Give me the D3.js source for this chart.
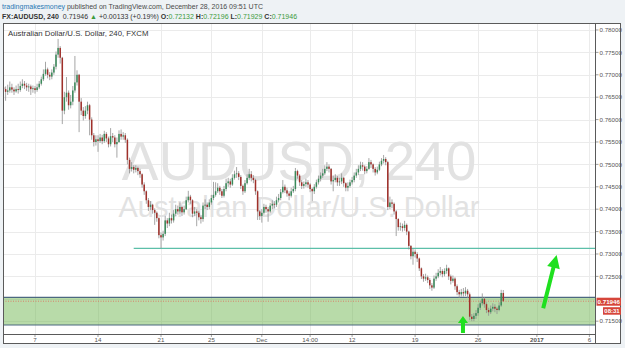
<!DOCTYPE html>
<html>
<head>
<meta charset="utf-8">
<script src="https://cdnjs.cloudflare.com/ajax/libs/d3/7.8.5/d3.min.js"></script>
<style>
body { margin: 0; background: #eef2f5; }
svg { display: block; font-family: "Liberation Sans", Arial, sans-serif; }
</style>
</head>
<body>
<div id="chart-area"></div>
<script>
// 4h bars, bar 0 = Nov 7 00:00, first bar drawn is -15
var firstBar = -15;
var firstOpen = 0.7672;

var closes = [
    0.7668, 0.7662, 0.7665, 0.7672, 0.7667, 0.7663, 0.7668, 0.7666, 0.7675, 0.7680, 0.7676, 0.7672, 0.7674, 0.7668, 0.7670,
    0.7666, 0.7672, 0.7680, 0.7690, 0.7702, 0.7712, 0.7700, 0.7696, 0.7705, 0.7718,
    0.7745, 0.7760, 0.7738, 0.7620, 0.7650, 0.7660, 0.7632, 0.7640, 0.7665, 0.7683,
    0.7700, 0.7640, 0.7620, 0.7608, 0.7620, 0.7632, 0.7600, 0.7565, 0.7550, 0.7556,
    0.7552, 0.7560, 0.7552, 0.7568, 0.7558, 0.7545, 0.7563, 0.7560, 0.7545, 0.7550,
    0.7568, 0.7562, 0.7565, 0.7555, 0.7510, 0.7490, 0.7494, 0.7488, 0.7492, 0.7485,
    0.7478, 0.7455, 0.7440, 0.7420, 0.7405, 0.7410, 0.7398, 0.7392, 0.7380, 0.7342,
    0.7337, 0.7345, 0.7375, 0.7368, 0.7380, 0.7375, 0.7390, 0.7400, 0.7395, 0.7405,
    0.7393, 0.7400, 0.7420, 0.7428, 0.7420, 0.7390, 0.7395, 0.7392, 0.7382, 0.7378,
    0.7408, 0.7410, 0.7405, 0.7415, 0.7425, 0.7432, 0.7440, 0.7448, 0.7440, 0.7430,
    0.7445, 0.7458, 0.7462, 0.7455, 0.7470, 0.7478, 0.7480, 0.7472, 0.7452, 0.7440,
    0.7458, 0.7470, 0.7478, 0.7470, 0.7465, 0.7440, 0.7395, 0.7385, 0.7392, 0.7405,
    0.7400, 0.7395, 0.7408, 0.7412, 0.7410, 0.7420, 0.7425, 0.7438, 0.7450, 0.7442,
    0.7435, 0.7430, 0.7440, 0.7445, 0.7485, 0.7475, 0.7460, 0.7452, 0.7456, 0.7460,
    0.7455, 0.7445, 0.7440, 0.7450, 0.7460, 0.7468, 0.7475, 0.7480, 0.7490, 0.7495,
    0.7490, 0.7462, 0.7465, 0.7470, 0.7460, 0.7462, 0.7470, 0.7458, 0.7448, 0.7452,
    0.7460, 0.7465, 0.7475, 0.7482, 0.7490, 0.7498, 0.7495, 0.7485, 0.7490, 0.7505,
    0.7500, 0.7490, 0.7482, 0.7488, 0.7500, 0.7508, 0.7512, 0.7505, 0.7405, 0.7415,
    0.7412, 0.7395, 0.7378, 0.7360, 0.7362, 0.7358, 0.7365, 0.7350, 0.7318, 0.7295,
    0.7305, 0.7300, 0.7290, 0.7268, 0.7250, 0.7245, 0.7248, 0.7242, 0.7230, 0.7225,
    0.7245, 0.7250, 0.7258, 0.7262, 0.7255, 0.7262, 0.7268, 0.7250, 0.7240, 0.7245,
    0.7228, 0.7215, 0.7210, 0.7215, 0.7212, 0.7218, 0.7210, 0.7160, 0.7155, 0.7162,
    0.7168, 0.7180, 0.7190, 0.7200, 0.7188, 0.7175, 0.7170, 0.7178, 0.7182, 0.7178,
    0.7175, 0.7185, 0.7213, 0.71946
];

var highs = [
    0.7680, 0.7674, 0.7678, 0.7685, 0.7680, 0.7672, 0.7676, 0.7680, 0.7685, 0.7690, 0.7686, 0.7682, 0.7680, 0.7678, 0.7676,
    0.7675, 0.7680, 0.7686, 0.7696, 0.7712, 0.7729, 0.7716, 0.7706, 0.7712, 0.7724,
    0.7752, 0.7780, 0.7764, 0.7740, 0.7662, 0.7695, 0.7665, 0.7655, 0.7675, 0.7742,
    0.7710, 0.7702, 0.7648, 0.7628, 0.7630, 0.7640, 0.7635, 0.7605, 0.7570, 0.7565,
    0.7565, 0.7568, 0.7566, 0.7575, 0.7572, 0.7562, 0.7581, 0.7570, 0.7565, 0.7560,
    0.7576, 0.7578, 0.7572, 0.7570, 0.7558, 0.7515, 0.7505, 0.7498, 0.7498, 0.7495,
    0.7490, 0.7480, 0.7460, 0.7442, 0.7425, 0.7418, 0.7412, 0.7402, 0.7395, 0.7382,
    0.7348, 0.7352, 0.7385, 0.7380, 0.7392, 0.7388, 0.7398, 0.7410, 0.7408, 0.7415,
    0.7408, 0.7408, 0.7428, 0.7441, 0.7432, 0.7422, 0.7405, 0.7400, 0.7396, 0.7386,
    0.7415, 0.7422, 0.7415, 0.7422, 0.7432, 0.7461, 0.7460, 0.7458, 0.7452, 0.7445,
    0.7452, 0.7468, 0.7470, 0.7468, 0.7478, 0.7486, 0.7494, 0.7485, 0.7476, 0.7455,
    0.7465, 0.7478, 0.7490, 0.7485, 0.7476, 0.7468, 0.7442, 0.7398, 0.7400, 0.7412,
    0.7410, 0.7405, 0.7414, 0.7420, 0.7418, 0.7428, 0.7434, 0.7445, 0.7465, 0.7455,
    0.7448, 0.7440, 0.7448, 0.7452, 0.7492, 0.7488, 0.7478, 0.7465, 0.7462, 0.7468,
    0.7465, 0.7458, 0.7448, 0.7456, 0.7466, 0.7475, 0.7482, 0.7490, 0.7498, 0.7505,
    0.7500, 0.7492, 0.7475, 0.7478, 0.7474, 0.7470, 0.7480, 0.7472, 0.7460, 0.7460,
    0.7466, 0.7472, 0.7482, 0.7490, 0.7498, 0.7506, 0.7505, 0.7498, 0.7496, 0.7514,
    0.7510, 0.7502, 0.7494, 0.7495, 0.7506, 0.7514, 0.7521, 0.7516, 0.7508, 0.7428,
    0.7422, 0.7415, 0.7398, 0.7380, 0.7370, 0.7368, 0.7374, 0.7368, 0.7352, 0.7320,
    0.7312, 0.7310, 0.7304, 0.7292, 0.7270, 0.7255, 0.7256, 0.7252, 0.7246, 0.7235,
    0.7252, 0.7258, 0.7266, 0.7271, 0.7266, 0.7268, 0.7276, 0.7270, 0.7254, 0.7252,
    0.7248, 0.7232, 0.7220, 0.7222, 0.7224, 0.7226, 0.7222, 0.7214, 0.7166, 0.7168,
    0.7175, 0.7188, 0.7196, 0.7212, 0.7204, 0.7192, 0.7180, 0.7185, 0.7190, 0.7188,
    0.7182, 0.7192, 0.7220, 0.72196
];

var lows = [
    0.7655, 0.7642, 0.7655, 0.7660, 0.7660, 0.7655, 0.7660, 0.7658, 0.7662, 0.7670, 0.7668, 0.7664, 0.7662, 0.7655, 0.7660,
    0.7658, 0.7662, 0.7668, 0.7676, 0.7686, 0.7698, 0.7692, 0.7688, 0.7690, 0.7700,
    0.7712, 0.7738, 0.7725, 0.7590, 0.7612, 0.7640, 0.7622, 0.7625, 0.7632, 0.7660,
    0.7676, 0.7572, 0.7610, 0.7598, 0.7602, 0.7612, 0.7565, 0.7555, 0.7540, 0.7542,
    0.7528, 0.7548, 0.7545, 0.7548, 0.7550, 0.7538, 0.7540, 0.7550, 0.7538, 0.7515,
    0.7548, 0.7555, 0.7555, 0.7548, 0.7500, 0.7480, 0.7484, 0.7480, 0.7482, 0.7476,
    0.7470, 0.7448, 0.7432, 0.7412, 0.7396, 0.7398, 0.7390, 0.7365, 0.7372, 0.7335,
    0.7313, 0.7330, 0.7340, 0.7358, 0.7362, 0.7368, 0.7370, 0.7385, 0.7388, 0.7390,
    0.7385, 0.7388, 0.7398, 0.7415, 0.7412, 0.7382, 0.7385, 0.7362, 0.7375, 0.7368,
    0.7372, 0.7400, 0.7398, 0.7400, 0.7410, 0.7420, 0.7428, 0.7436, 0.7432, 0.7425,
    0.7426, 0.7440, 0.7450, 0.7448, 0.7452, 0.7466, 0.7470, 0.7465, 0.7445, 0.7432,
    0.7436, 0.7455, 0.7465, 0.7462, 0.7458, 0.7432, 0.7376, 0.7376, 0.7370, 0.7388,
    0.7392, 0.7372, 0.7392, 0.7400, 0.7402, 0.7405, 0.7415, 0.7420, 0.7435, 0.7436,
    0.7428, 0.7420, 0.7426, 0.7436, 0.7440, 0.7468, 0.7452, 0.7445, 0.7446, 0.7450,
    0.7448, 0.7438, 0.7418, 0.7434, 0.7446, 0.7455, 0.7462, 0.7470, 0.7476, 0.7485,
    0.7482, 0.7455, 0.7440, 0.7460, 0.7452, 0.7452, 0.7456, 0.7450, 0.7440, 0.7440,
    0.7448, 0.7455, 0.7460, 0.7470, 0.7476, 0.7485, 0.7486, 0.7478, 0.7480, 0.7488,
    0.7492, 0.7482, 0.7475, 0.7478, 0.7485, 0.7496, 0.7502, 0.7498, 0.7398, 0.7400,
    0.7402, 0.7388, 0.7340, 0.7352, 0.7352, 0.7350, 0.7352, 0.7342, 0.7310, 0.7288,
    0.7276, 0.7292, 0.7282, 0.7262, 0.7244, 0.7238, 0.7240, 0.7235, 0.7222, 0.7218,
    0.7222, 0.7240, 0.7246, 0.7252, 0.7248, 0.7250, 0.7256, 0.7242, 0.7232, 0.7236,
    0.7220, 0.7208, 0.7202, 0.7205, 0.7205, 0.7206, 0.7202, 0.7152, 0.7150, 0.7150,
    0.7155, 0.7162, 0.7175, 0.7185, 0.7180, 0.7168, 0.7162, 0.7166, 0.7172, 0.7170,
    0.7166, 0.7172, 0.7182, 0.71929
];

var tickBars = [0, 30, 60, 84, 108, 131, 151, 181, 211, 239, 264];
var tickLabels = ["7", "14", "21", "25", "Dec", "14:00", "12", "19", "26", "2017", "6"];
var priceTicks = [0.715, 0.720, 0.725, 0.730, 0.735, 0.740, 0.745, 0.750, 0.755, 0.760, 0.765, 0.770, 0.775, 0.780];

var lastPrice = 0.71946;
var lastLabel = "0.71946";
var countdown = "08:31";

// drawings on the chart
var supportLevel = 0.73127, supportFrom = 47;
var zoneTop = 0.72033, zoneBottom = 0.71415;
var bigArrow = { fromBar: 242, fromPrice: 0.71788, toBar: 248.4, toPrice: 0.72978 };
var smallArrow = { fromBar: 203.8, fromPrice: 0.71237, toBar: 203.8, toPrice: 0.71616 };

var W = 625, H = 348;
var plotL = 3, plotR = 595, plotT = 23, plotB = 334, axisR = 621, axisB = 344;

var svg = d3.select("#chart-area")
    .append("svg")
    .attr("width", W)
    .attr("height", H);

svg.append("rect").attr("width", W).attr("height", H).attr("fill", "#eef2f5");

// header
var head1 = svg.append("text").attr("x", 2).attr("y", 9).attr("font-size", 7).attr("fill", "#4a4a4a");
head1.append("tspan").attr("fill", "#2a78b4").text("tradingmakesmoney");
head1.append("tspan").text(" published on TradingView.com, December 28, 2016 09:51 UTC");

var head2 = svg.append("text").attr("x", 2).attr("y", 18.5).attr("font-size", 7).attr("fill", "#333");
head2.append("tspan").attr("font-weight", "bold").text("FX:AUDUSD, 240");
head2.append("tspan").attr("dx", 4).text(lastLabel + " ");
head2.append("tspan").attr("fill", "#3c9a3c").text("\u25B2");
head2.append("tspan").text(" +0.00133 (+0.19%) ");
var ohlc = [["O:", "0.72132"], ["H:", "0.72196"], ["L:", "0.71929"], ["C:", "0.71946"]];
ohlc.forEach(function(d){
    head2.append("tspan").attr("font-weight", "bold").text(d[0]);
    head2.append("tspan").attr("fill", "#3c9a3c").text(d[1] + " ");
});

// chart body
svg.append("rect")
    .attr("x", plotL).attr("y", plotT)
    .attr("width", axisR - plotL).attr("height", axisB - plotT)
    .attr("fill", "#fff");

var x = d3.scaleLinear()
    .domain([-15.24, 266.67])
    .range([plotL, plotR]);

var y = d3.scaleLinear()
    .domain([0.71214, 0.78156])
    .range([plotB, plotT]);

svg.append("clipPath").attr("id", "plotclip")
    .append("rect")
    .attr("x", plotL).attr("y", plotT)
    .attr("width", plotR - plotL).attr("height", plotB - plotT);

var g = svg.append("g").attr("clip-path", "url(#plotclip)");

// grid
g.selectAll(".hgrid")
    .data(priceTicks)
    .enter().append("line")
    .attr("x1", plotL).attr("x2", plotR)
    .attr("y1", function(d) { return Math.round(y(d)) + 0.5; })
    .attr("y2", function(d) { return Math.round(y(d)) + 0.5; })
    .attr("stroke", "#ebebeb");

g.selectAll(".vgrid")
    .data(tickBars)
    .enter().append("line")
    .attr("y1", plotT).attr("y2", plotB)
    .attr("x1", function(d) { return Math.round(x(d)) + 0.5; })
    .attr("x2", function(d) { return Math.round(x(d)) + 0.5; })
    .attr("stroke", "#ebebeb");

// watermark
var midX = (plotL + plotR) / 2;
g.append("text")
    .attr("x", midX).attr("y", 180)
    .attr("text-anchor", "middle")
    .attr("font-size", 55)
    .attr("fill", "#e2e2e2")
    .text("AUDUSD, 240");
g.append("text")
    .attr("x", midX).attr("y", 217)
    .attr("text-anchor", "middle")
    .attr("font-size", 29)
    .attr("fill", "#e2e2e2")
    .text("Australian Dollar/U.S. Dollar");

// green zone
g.append("rect")
    .attr("x", plotL).attr("width", plotR - plotL)
    .attr("y", y(zoneTop)).attr("height", y(zoneBottom) - y(zoneTop))
    .attr("fill", "rgb(113,183,83)").attr("fill-opacity", 0.5);
[zoneTop, zoneBottom].forEach(function(p){
    g.append("line")
        .attr("x1", plotL).attr("x2", plotR)
        .attr("y1", y(p)).attr("y2", y(p))
        .attr("stroke", "#4b6880").attr("stroke-width", 1.2);
});

// support line
g.append("line")
    .attr("x1", x(supportFrom)).attr("x2", plotR)
    .attr("y1", y(supportLevel)).attr("y2", y(supportLevel))
    .attr("stroke", "#5cbfa9").attr("stroke-width", 1.2);

// candles
var bars = closes.map(function(c, i){
    return {
        bar: firstBar + i,
        open: i == 0 ? firstOpen : closes[i - 1],
        high: highs[i],
        low: lows[i],
        close: c
    };
});

g.selectAll(".wick")
    .data(bars)
    .enter().append("line")
    .attr("class", "wick")
    .attr("x1", function(d) { return x(d.bar); })
    .attr("x2", function(d) { return x(d.bar); })
    .attr("y1", function(d) { return y(d.high); })
    .attr("y2", function(d) { return y(d.low); })
    .attr("stroke", "#8f8f8f")
    .attr("stroke-width", 0.8);

g.selectAll(".body")
    .data(bars)
    .enter().append("rect")
    .attr("class", "body")
    .attr("x", function(d) { return x(d.bar) - 0.75; })
    .attr("width", 1.5)
    .attr("y", function(d) { return y(Math.max(d.open, d.close)); })
    .attr("height", function(d) { return Math.max(0.8, Math.abs(y(d.open) - y(d.close))); })
    .attr("fill", function(d) { return d.close >= d.open ? "#3a8a5a" : "#a0302a"; });

// last price dotted line
g.append("line")
    .attr("x1", plotL).attr("x2", plotR)
    .attr("y1", y(lastPrice)).attr("y2", y(lastPrice))
    .attr("stroke", "#e06a58").attr("stroke-width", 0.8)
    .attr("stroke-dasharray", "1,1.5");

// arrows
function arrowPath(a, headLen, headHalf, shaftHalf) {
    var x1 = x(a.fromBar), y1 = y(a.fromPrice), x2 = x(a.toBar), y2 = y(a.toPrice);
    var len = Math.sqrt((x2 - x1) * (x2 - x1) + (y2 - y1) * (y2 - y1));
    var ux = (x2 - x1) / len, uy = (y2 - y1) / len;
    var nx = -uy, ny = ux;
    var bx = x2 - ux * headLen, by = y2 - uy * headLen;
    var pts = [
        [x1 + nx * shaftHalf, y1 + ny * shaftHalf],
        [bx + nx * shaftHalf, by + ny * shaftHalf],
        [bx + nx * headHalf, by + ny * headHalf],
        [x2, y2],
        [bx - nx * headHalf, by - ny * headHalf],
        [bx - nx * shaftHalf, by - ny * shaftHalf],
        [x1 - nx * shaftHalf, y1 - ny * shaftHalf]
    ];
    return "M" + pts.map(function(p) { return p[0] + "," + p[1]; }).join("L") + "Z";
}

svg.append("path")
    .attr("d", arrowPath(bigArrow, 13, 6.5, 2))
    .attr("fill", "#1fe01f");
svg.append("path")
    .attr("d", arrowPath(smallArrow, 7, 5, 2))
    .attr("fill", "#1fe01f");

// in-chart title
svg.append("text")
    .attr("x", 8).attr("y", 36)
    .attr("font-size", 7.8)
    .attr("fill", "#333")
    .text("Australian Dollar/U.S. Dollar, 240, FXCM");

// frame
svg.append("rect")
    .attr("x", plotL + 0.5).attr("y", plotT + 0.5)
    .attr("width", axisR - plotL - 1).attr("height", axisB - plotT - 1)
    .attr("fill", "none").attr("stroke", "#5a5a5a");
svg.append("line")
    .attr("x1", plotR + 0.5).attr("x2", plotR + 0.5)
    .attr("y1", plotT).attr("y2", axisB)
    .attr("stroke", "#5a5a5a");
svg.append("line")
    .attr("x1", plotL).attr("x2", plotR)
    .attr("y1", plotB + 0.5).attr("y2", plotB + 0.5)
    .attr("stroke", "#5a5a5a");

// price axis
var shown = priceTicks.filter(function(d) { return Math.abs(y(d) - y(lastPrice)) > 6; });
var pAxis = svg.append("g");
pAxis.selectAll(".ptick")
    .data(shown)
    .enter().append("line")
    .attr("x1", plotR + 1).attr("x2", plotR + 3.5)
    .attr("y1", function(d) { return y(d); })
    .attr("y2", function(d) { return y(d); })
    .attr("stroke", "#777").attr("stroke-width", 0.7);
pAxis.selectAll(".plabel")
    .data(shown)
    .enter().append("text")
    .attr("x", plotR + 4.5)
    .attr("y", function(d) { return y(d) + 2.2; })
    .attr("font-size", 6.2)
    .attr("fill", "#555")
    .text(function(d) { return d3.format(".5f")(d); });

// last price labels
var ly = y(lastPrice);
svg.append("rect")
    .attr("x", plotR + 1.5).attr("y", ly - 3.5)
    .attr("width", 24.5).attr("height", 8)
    .attr("fill", "#d6463a");
svg.append("text")
    .attr("x", plotR + 13.75).attr("y", ly + 2.4)
    .attr("text-anchor", "middle")
    .attr("font-size", 6.2).attr("font-weight", "bold")
    .attr("fill", "#fff")
    .text(lastLabel);
svg.append("rect")
    .attr("x", plotR + 8).attr("y", ly + 6)
    .attr("width", 18).attr("height", 7.5)
    .attr("fill", "#d6463a");
svg.append("text")
    .attr("x", plotR + 17).attr("y", ly + 11.8)
    .attr("text-anchor", "middle")
    .attr("font-size", 6).attr("font-weight", "bold")
    .attr("fill", "#fff")
    .text(countdown);

// time axis
var tAxis = svg.append("g");
tAxis.selectAll(".ttick")
    .data(tickBars)
    .enter().append("line")
    .attr("x1", function(d) { return x(d); })
    .attr("x2", function(d) { return x(d); })
    .attr("y1", plotB + 1).attr("y2", plotB + 3)
    .attr("stroke", "#777").attr("stroke-width", 0.7);
tAxis.selectAll(".tlabel")
    .data(tickBars)
    .enter().append("text")
    .attr("x", function(d) { return x(d); })
    .attr("y", plotB + 8.3)
    .attr("text-anchor", "middle")
    .attr("font-size", 6.2)
    .attr("font-weight", function(d, i) { return tickLabels[i] == "2017" ? "bold" : "normal"; })
    .attr("fill", "#555")
    .text(function(d, i) { return tickLabels[i]; });
</script>
</body>
</html>
